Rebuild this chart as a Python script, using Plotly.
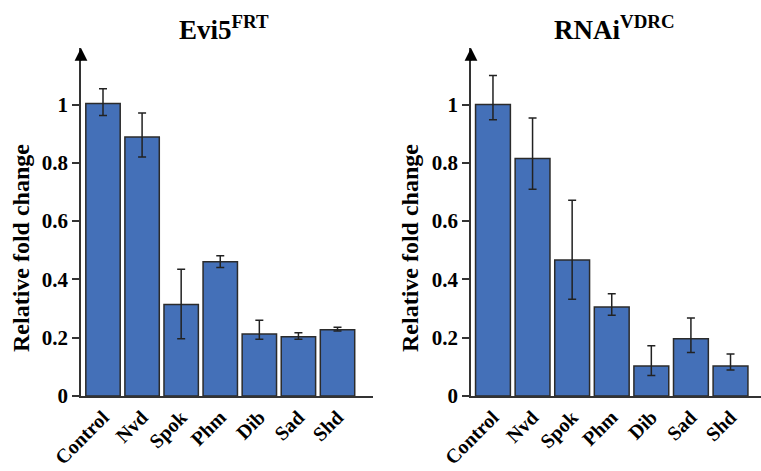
import plotly.graph_objects as go

categories = ["Control", "Nvd", "Spok", "Phm", "Dib", "Sad", "Shd"]
y_ticks = [0, 0.2, 0.4, 0.6, 0.8, 1.0]
y_tick_labels = ["0", "0.2", "0.4", "0.6", "0.8", "1"]

evi5_values = [1.004, 0.889, 0.314, 0.461, 0.213, 0.203, 0.227]
evi5_err_plus = [0.050, 0.082, 0.121, 0.020, 0.047, 0.014, 0.009]
evi5_err_minus = [0.042, 0.069, 0.118, 0.020, 0.018, 0.008, 0.004]

rnai_values = [1.000, 0.815, 0.467, 0.305, 0.103, 0.196, 0.103]
rnai_err_plus = [0.100, 0.139, 0.205, 0.046, 0.069, 0.072, 0.041]
rnai_err_minus = [0.052, 0.106, 0.135, 0.028, 0.033, 0.047, 0.014]

W, H = 761, 471
FONT = "Liberation Serif"
BAR = "#4470B8"
EDGE = "#2b2b2b"
xpos = list(range(len(categories)))

fig = go.Figure()
for vals, ep, em, xa, ya in [
    (evi5_values, evi5_err_plus, evi5_err_minus, "x", "y"),
    (rnai_values, rnai_err_plus, rnai_err_minus, "x2", "y2"),
]:
    fig.add_trace(go.Bar(
        x=xpos, y=vals, width=0.88, xaxis=xa, yaxis=ya,
        marker=dict(color=BAR, line=dict(color=EDGE, width=1.5)),
        error_y=dict(type="data", symmetric=False, array=ep, arrayminus=em,
                     color="#222222", thickness=1.5, width=4),
        showlegend=False,
    ))

xtickfont = dict(family=FONT, size=20, color="black", weight="bold")
ytickfont = dict(family=FONT, size=21, color="black", weight="bold")
common_x = dict(tickvals=xpos, ticktext=categories, tickangle=-45, showline=True,
                linecolor="#333333", linewidth=1.5, ticks="", showgrid=False,
                zeroline=False, tickfont=xtickfont, automargin=False)
common_y = dict(tickvals=y_ticks, ticktext=y_tick_labels, range=[0, 1.194],
                showline=True, linecolor="#333333", linewidth=1.5, ticks="outside",
                ticklen=7, tickwidth=1.5, tickcolor="#333333", showgrid=False,
                zeroline=False, tickfont=ytickfont, domain=[75 / H, 423 / H],
                automargin=False)

fig.update_layout(
    width=W, height=H, margin=dict(l=0, r=0, t=0, b=0, autoexpand=False),
    paper_bgcolor="white", plot_bgcolor="white",
    xaxis=dict(domain=[81 / W, 373 / W], range=[-0.563, 6.908], anchor="y", **common_x),
    yaxis=dict(anchor="x", **common_y),
    xaxis2=dict(domain=[471 / W, 1.0], range=[-0.555, 6.77], anchor="y2", **common_x),
    yaxis2=dict(anchor="x2", **common_y),
)

annots = []
for xr, yr in [("x domain", "y domain"), ("x2 domain", "y2 domain")]:
    annots.append(dict(xref=xr, yref=yr, x=0, y=1, ax=0, ay=14, text="",
                       showarrow=True, arrowhead=2, arrowsize=1.7, arrowwidth=1.5,
                       arrowcolor="black"))
for xc in [21, 410]:
    annots.append(dict(xref="paper", yref="paper", x=xc / W, y=1 - 248 / H,
                       text="Relative fold change", textangle=-90, showarrow=False,
                       xanchor="center", yanchor="middle",
                       font=dict(family=FONT, size=24, color="black", weight="bold")))
for xc, t in [(224, "Evi5<sup>FRT</sup>"), (614, "RNAi<sup>VDRC</sup>")]:
    annots.append(dict(xref="paper", yref="paper", x=xc / W, y=1 - 28 / H,
                       text=t, showarrow=False, xanchor="center", yanchor="middle",
                       font=dict(family=FONT, size=27, color="black", weight="bold")))
fig.update_layout(annotations=annots)

fig.write_html("out.html")
